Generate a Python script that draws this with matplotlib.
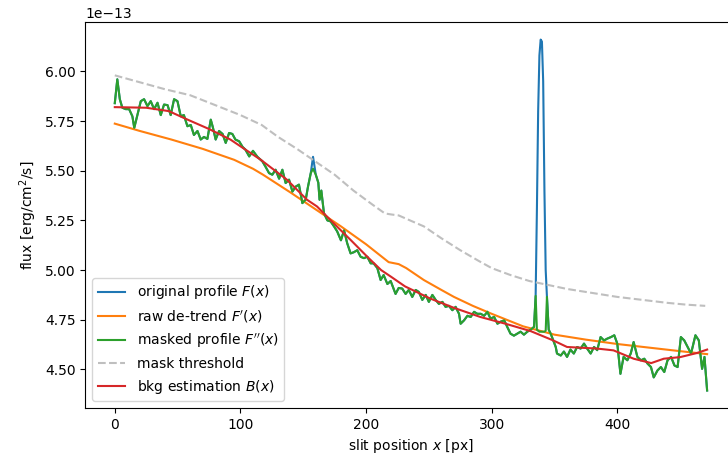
import numpy as np
import matplotlib
matplotlib.use("Agg")
import matplotlib.pyplot as plt

# slit profile (flux in units of 1e-13 erg/cm2/s)
x_prof = [0, 2, 4, 6, 8.7, 11.4, 14, 15.5, 18, 20.7, 23.3, 26, 28.6, 31.3, 34,
          36.6, 39.2, 42, 44.5, 47.2, 49.9, 52.5, 55, 57.8, 60.5, 63, 65.8, 68.4,
          71, 73.7, 76.4, 78, 80.3, 83, 85.8, 88.3, 91, 93.6, 96, 99, 101.7, 104,
          107, 110, 113.5, 117.5, 120, 122.8, 125.4, 128, 130.8, 133.4, 136,
          138.7, 141.4, 144, 146.6, 149.3, 152, 153.8, 156, 157.8, 160, 162, 163,
          164.4, 166.5, 169.2, 171.8, 174.5, 177, 180, 182.5, 185, 187.7, 190.3,
          193, 195.7, 198.3, 201, 203.7, 206, 209, 211.6, 214, 217, 219.6, 223.5,
          226, 228.8, 231.5, 234, 236.8, 239.5, 242, 244.8, 247.5, 250, 252.8,
          255.4, 258, 260.8, 263.3, 266, 268.7, 271.3, 274, 275.3, 278, 280.7,
          283.3, 286, 288.6, 291.3, 294, 296.6, 299, 302, 304.6, 307, 310, 312.4,
          315, 317.7, 320.4, 323, 325.7, 328.4, 331, 333.7, 335, 336, 337, 338,
          339, 340, 341, 342, 343, 344, 345.4, 347, 351, 352, 355, 357.5, 360,
          362.7, 365.4, 368, 370.8, 373.5, 376, 378.8, 381.5, 384, 386.7, 389.4,
          392, 395, 397.6, 400, 402.5, 405, 408, 410.7, 413, 416, 418.8, 421.5,
          424, 426.8, 429, 432, 434.7, 437.4, 440, 442.8, 445.5, 448, 450.6,
          453.3, 456, 458.7, 462.2, 464.9, 467.5, 469.4, 471.5]
f_masked = [5.84, 5.96, 5.86, 5.817, 5.81, 5.81, 5.774, 5.716, 5.78, 5.85, 5.86,
            5.825, 5.85, 5.81, 5.842, 5.78, 5.833, 5.83, 5.78, 5.86, 5.85, 5.774,
            5.78, 5.724, 5.73, 5.68, 5.70, 5.657, 5.67, 5.66, 5.757, 5.72, 5.657,
            5.70, 5.685, 5.64, 5.69, 5.685, 5.657, 5.648, 5.62, 5.606, 5.572, 5.60,
            5.57, 5.547, 5.52, 5.488, 5.48, 5.505, 5.46, 5.505, 5.438, 5.455, 5.395,
            5.42, 5.43, 5.337, 5.355, 5.42, 5.488, 5.51, 5.48, 5.44, 5.354, 5.40,
            5.286, 5.25, 5.245, 5.22, 5.195, 5.15, 5.20, 5.135, 5.084, 5.09, 5.10,
            5.067, 5.06, 5.067, 5.034, 5.034, 5.01, 4.95, 4.975, 4.93, 4.945, 4.88,
            4.91, 4.907, 4.88, 4.90, 4.865, 4.90, 4.89, 4.85, 4.875, 4.84, 4.875,
            4.85, 4.83, 4.84, 4.815, 4.82, 4.798, 4.815, 4.78, 4.73, 4.747, 4.77,
            4.764, 4.79, 4.78, 4.78, 4.77, 4.79, 4.756, 4.764, 4.73, 4.74, 4.747,
            4.714, 4.68, 4.67, 4.68, 4.69, 4.675, 4.69, 4.70, 4.714, 4.87, 4.70,
            4.695, 4.69, 4.69, 4.69, 4.69, 4.69, 4.695, 4.865, 4.70, 4.68, 4.613,
            4.58, 4.57, 4.59, 4.563, 4.60, 4.58, 4.613, 4.605, 4.63, 4.605, 4.58,
            4.613, 4.597, 4.663, 4.646, 4.655, 4.663, 4.672, 4.63, 4.478, 4.563,
            4.546, 4.58, 4.638, 4.563, 4.546, 4.554, 4.53, 4.512, 4.46, 4.495,
            4.512, 4.487, 4.546, 4.563, 4.52, 4.512, 4.663, 4.646, 4.613, 4.58,
            4.672, 4.646, 4.503, 4.563, 4.394]

# original values at the masked (emission) positions
mask_x = [157.8, 336, 337, 338, 339, 340, 341, 342, 343]
mask_orig = [5.57, 5.30, 5.80, 6.08, 6.16, 6.15, 5.95, 5.40, 5.00]

x_detrend = [0, 20, 45, 70, 95, 110, 118, 140, 160, 180, 200, 210, 218, 226, 232,
             246, 260, 270, 285, 300, 325, 350, 375, 400, 425, 450, 471.5]
f_detrend = [5.737, 5.70, 5.657, 5.61, 5.555, 5.51, 5.48, 5.39, 5.305, 5.22, 5.13,
             5.08, 5.04, 5.03, 5.01, 4.95, 4.90, 4.865, 4.82, 4.78, 4.717, 4.675,
             4.65, 4.628, 4.61, 4.592, 4.577]

x_thresh = [0, 20, 40, 60, 80, 100, 117, 130, 145, 160, 175, 190, 205, 215, 220,
            226, 235, 246, 260, 275, 290, 300, 315, 330, 345, 360, 380, 400, 420,
            440, 455, 470]
f_thresh = [5.98, 5.945, 5.91, 5.88, 5.83, 5.78, 5.73, 5.67, 5.61, 5.545, 5.48,
            5.40, 5.33, 5.285, 5.28, 5.275, 5.25, 5.22, 5.16, 5.10, 5.045, 5.01,
            4.975, 4.945, 4.925, 4.905, 4.885, 4.865, 4.85, 4.835, 4.826, 4.82]

x_bkg = [0, 25, 43, 58, 75, 92, 100, 116, 137, 153, 161, 174, 188, 201, 212, 220,
         231, 251, 270, 291, 311, 331, 349, 360, 384, 397, 413, 427, 437, 450,
         463, 471.5]
f_bkg = [5.82, 5.817, 5.80, 5.757, 5.71, 5.657, 5.623, 5.556, 5.455, 5.354, 5.32,
         5.237, 5.15, 5.067, 5.00, 4.966, 4.918, 4.857, 4.81, 4.764, 4.73, 4.693,
         4.646, 4.613, 4.605, 4.596, 4.554, 4.532, 4.554, 4.562, 4.582, 4.60]

scale = 1e-13

# original profile = masked profile with the emission points put back
f_orig = np.array(f_masked, dtype=float)
for xm, fm in zip(mask_x, mask_orig):
    f_orig[x_prof.index(xm)] = fm

fig = plt.figure(figsize=(7.28, 4.59), dpi=100)
ax = fig.add_axes([0.117, 0.111, 0.895, 0.841])

ax.plot(x_prof, f_orig * scale, color='C0', label=r'original profile $F(x)$')
ax.plot(x_detrend, np.array(f_detrend) * scale, color='C1', label=r"raw de-trend $F'(x)$")
ax.plot(x_prof, np.array(f_masked) * scale, color='C2', label=r"masked profile $F''(x)$")
ax.plot(x_thresh, np.array(f_thresh) * scale, color='0.75', ls='--', label='mask threshold')
ax.plot(x_bkg, np.array(f_bkg) * scale, color='C3', label=r'bkg estimation $B(x)$')

ax.set_xlabel(r'slit position $x$ [px]')
ax.set_ylabel(r'flux [erg/cm$^2$/s]')
ax.legend(loc='lower left')

fig.savefig('out.png', dpi=100)
